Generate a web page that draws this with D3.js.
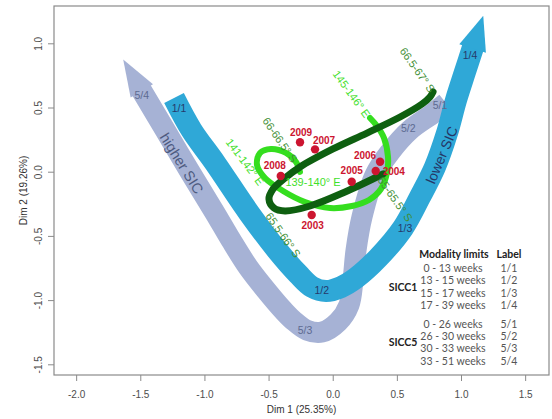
<!DOCTYPE html>
<html><head><meta charset="utf-8">
<script src="https://cdn.jsdelivr.net/npm/d3@7"></script>
<style>
body{margin:0;background:#fff;}
svg{display:block;font-family:Arial,"Liberation Sans",Helvetica,sans-serif;}
</style></head><body>
<svg id="chart" width="552" height="419"></svg>
<script>
// ---- axes ----
const xTicks = [-2.0, -1.5, -1.0, -0.5, 0.0, 0.5, 1.0, 1.5];
const yTicks = [-1.5, -1.0, -0.5, 0.0, 0.5, 1.0];
const xTitle = "Dim 1 (25.35%)";
const yTitle = "Dim 2 (19.26%)";

// ---- SICC1 trajectory (modalities 1/1 -> 1/4) ----
const sicc1Path = [[-1.237,0.574],[-1.101,0.325],[-0.917,0.068],[-0.652,-0.322],[-0.434,-0.610],
  [-0.270,-0.797],[-0.161,-0.898],[-0.052,-0.929],[0.065,-0.898],[0.181,-0.828],[0.353,-0.672],[0.548,-0.438],
  [0.680,-0.197],[0.797,0.037],[0.891,0.301],[0.961,0.558],[1.031,0.777],[1.094,0.971]];
const sicc1Labels = ["1/1","1/2","1/3","1/4"];
const sicc1LabelPos = [[-1.198,0.496],[-0.086,-0.927],[0.564,-0.441],[1.070,0.909]];

// ---- SICC5 trajectory (modalities 5/1 -> 5/4) ----
const sicc5Path = [[0.883,0.535],[0.774,0.449],[0.602,0.325],[0.447,0.153],[0.330,-0.026],
  [0.228,-0.353],[0.182,-0.610],[0.158,-0.844],[0.127,-1.038],[0.041,-1.171],[-0.083,-1.249],
  [-0.200,-1.234],[-0.309,-1.156],[-0.387,-1.078],[-0.520,-0.922],[-0.660,-0.742],[-0.793,-0.532],
  [-0.917,-0.322],[-1.112,-0.002],[-1.307,0.325],[-1.494,0.640]];
const sicc5Labels = ["5/1","5/2","5/3","5/4"];
const sicc5LabelPos = [[0.836,0.519],[0.589,0.338],[-0.216,-1.233],[-1.489,0.592]];

// ---- latitude trajectory ----
const latPath = [[0.392,-0.018],[0.096,-0.158],[-0.177,-0.267],[-0.372,-0.306],[-0.458,-0.283],
  [-0.497,-0.213],[-0.465,-0.135],[-0.372,-0.049],[-0.255,0.037],[0.002,0.177],[0.267,0.301],
  [0.525,0.426],[0.696,0.527],[0.758,0.582],[0.782,0.621]];
const latLabels = ["65-65.5° S","65.5-66° S","66-66.5° S","66.5-67° S"];
const latLabelPos = [[0.486,-0.213],[-0.387,-0.493],[-0.411,0.247],[0.660,0.792]];

// ---- longitude trajectory ----
const lonPath = [[-0.255,-0.002],[-0.286,0.076],[-0.364,0.146],[-0.481,0.177],[-0.567,0.146],
  [-0.590,0.052],[-0.528,-0.049],[-0.387,-0.150],[-0.216,-0.236],[-0.021,-0.283],[0.150,-0.267],
  [0.283,-0.220],[0.376,-0.135],[0.423,-0.010],[0.431,0.114],[0.400,0.262],[0.345,0.356],[0.291,0.418]];
const lonLabels = ["139-140° E","141-142° E","145-146° E"];
const lonLabelPos = [[-0.154,-0.080],[-0.684,0.076],[0.147,0.605]];
const lonLabelRot = [0, 53, 54];

// ---- years ----
const years = ["2003","2004","2005","2006","2007","2008","2009"];
const yearX = [-0.164, 0.335, 0.148, 0.369, -0.138, -0.405, -0.255];
const yearY = [-0.337, 0.005, -0.078, 0.078, 0.174, -0.033, 0.229];

// ---- modality table ----
const sicc1Ranges = ["0 - 13 weeks","13 - 15 weeks","15 - 17 weeks","17 - 39 weeks"];
const sicc5Ranges = ["0 - 26 weeks","26 - 30 weeks","30 - 33 weeks","33 - 51 weeks"];

const plot = {left: 54, right: 549, top: 6, bottom: 375};
const x = d3.scaleLinear().domain([-2.1726, 1.6859]).range([plot.left, plot.right]);
const y = d3.scaleLinear().domain([-1.5833, 1.2905]).range([plot.bottom, plot.top]);

const svg = d3.select("#chart");
const fmt = v => d3.format(".1f")(v).replace("−", "-");

// axes
const gx = svg.append("g").attr("transform", `translate(0,${plot.bottom})`)
  .call(d3.axisBottom(x).tickValues(xTicks).tickFormat(fmt).tickSize(6).tickPadding(10));
gx.select(".domain").remove();
gx.selectAll("line").attr("stroke", "#8a8a8a");
gx.selectAll("text").attr("fill", "#4d4d4d").attr("font-size", 10).attr("font-family", "Arial, 'Liberation Sans', sans-serif");

const gy = svg.append("g").attr("transform", `translate(${plot.left},0)`)
  .call(d3.axisLeft(y).tickValues(yTicks).tickFormat(fmt).tickSize(6));
gy.select(".domain").remove();
gy.selectAll("line").attr("stroke", "#8a8a8a");
gy.selectAll("text").attr("fill", "#4d4d4d").attr("font-size", 10)
  .attr("font-family", "Arial, 'Liberation Sans', sans-serif")
  .attr("transform", "rotate(-90)").attr("x", 0).attr("y", -12).attr("dy", 0)
  .attr("text-anchor", "middle");

svg.append("rect").attr("x", plot.left).attr("y", plot.top)
  .attr("width", plot.right - plot.left).attr("height", plot.bottom - plot.top)
  .attr("fill", "none").attr("stroke", "#8a8a8a").attr("stroke-width", 1.2);

svg.append("text").attr("x", (plot.left + plot.right) / 2).attr("y", 413)
  .attr("text-anchor", "middle").attr("font-size", 10).attr("fill", "#333").text(xTitle);
svg.append("text").attr("transform", `translate(27,${(plot.top + plot.bottom) / 2}) rotate(-90)`)
  .attr("text-anchor", "middle").attr("font-size", 10).attr("fill", "#333").text(yTitle);

const line = d3.line().x(d => x(d[0])).y(d => y(d[1])).curve(d3.curveCatmullRom.alpha(0.5));

// wide band with a triangular head at its last point
function band(pts, color, width, headLen, headHalf) {
  svg.append("path").attr("d", line(pts)).attr("fill", "none")
    .attr("stroke", color).attr("stroke-width", width).attr("stroke-linecap", "butt");
  const a = pts[pts.length - 2], b = pts[pts.length - 1];
  const ax = x(a[0]), ay = y(a[1]), bx = x(b[0]), by = y(b[1]);
  const d = Math.hypot(bx - ax, by - ay), ux = (bx - ax) / d, uy = (by - ay) / d;
  const px = -uy, py = ux;
  const cx = bx - ux * 1.5, cy = by - uy * 1.5;
  const tri = [[cx + px * headHalf, cy + py * headHalf], [bx + ux * headLen, by + uy * headLen],
               [cx - px * headHalf, cy - py * headHalf]];
  svg.append("path").attr("d", "M" + tri.map(p => p.join(",")).join("L") + "Z").attr("fill", color);
}

const grayBand = "#a6b2d5", blueBand = "#2fa8d7";
band(sicc5Path, grayBand, 21, 35, 13);
band(sicc1Path, blueBand, 22, 33, 14);

// band labels
function labels(txt, pos, color, size) {
  svg.append("g").selectAll("text").data(txt).join("text")
    .attr("x", (d, i) => x(pos[i][0])).attr("y", (d, i) => y(pos[i][1]))
    .attr("dy", "0.35em").attr("text-anchor", "middle")
    .attr("font-size", size).attr("fill", color).text(d => d);
}
labels(sicc5Labels, sicc5LabelPos, "#5d6a91", 10.5);
labels(sicc1Labels, sicc1LabelPos, "#263a6b", 10.5);

svg.append("text").attr("transform", `translate(${x(-1.177)},${y(0.065)}) rotate(58)`)
  .attr("text-anchor", "middle").attr("dy", "0.35em").attr("font-size", 14.5)
  .attr("fill", "#4d5a80").text("higher SIC");
svg.append("text").attr("transform", `translate(${x(0.850)},${y(0.130)}) rotate(-67)`)
  .attr("text-anchor", "middle").attr("dy", "0.35em").attr("font-size", 14)
  .attr("fill", "#243767").text("lower SIC");

// geographic trajectories
svg.append("path").attr("d", line(lonPath)).attr("fill", "none").attr("stroke", "#35de1f")
  .attr("stroke-width", 6).attr("stroke-linecap", "round").attr("stroke-linejoin", "round");
svg.append("path").attr("d", line(latPath)).attr("fill", "none").attr("stroke", "#0e5f10")
  .attr("stroke-width", 7).attr("stroke-linecap", "round").attr("stroke-linejoin", "round");

svg.append("g").selectAll("text").data(latLabels).join("text")
  .attr("transform", (d, i) => `translate(${x(latLabelPos[i][0])},${y(latLabelPos[i][1])}) rotate(55)`)
  .attr("text-anchor", "middle").attr("dy", "0.35em").attr("font-size", 11)
  .attr("fill", "#3f8f35").text(d => d);
svg.append("g").selectAll("text").data(lonLabels).join("text")
  .attr("transform", (d, i) => `translate(${x(lonLabelPos[i][0])},${y(lonLabelPos[i][1])}) rotate(${lonLabelRot[i]})`)
  .attr("text-anchor", "middle").attr("dy", "0.35em").attr("font-size", 11)
  .attr("fill", "#3fe02a").text(d => d);

// years
const yearOff = [[1, 11], [7, 0], [0, -11], [-15, -6], [9, -9], [-6, -10], [1, -10]];
const yearAnchor = ["middle", "start", "middle", "middle", "middle", "middle", "middle"];
svg.append("g").selectAll("circle").data(years).join("circle")
  .attr("cx", (d, i) => x(yearX[i])).attr("cy", (d, i) => y(yearY[i])).attr("r", 4.2)
  .attr("fill", "#cc1530");
svg.append("g").selectAll("text").data(years).join("text")
  .attr("x", (d, i) => x(yearX[i]) + yearOff[i][0])
  .attr("y", (d, i) => y(yearY[i]) + yearOff[i][1])
  .attr("dy", "0.35em").attr("text-anchor", (d, i) => yearAnchor[i])
  .attr("font-size", 10).attr("font-weight", "bold").attr("fill", "#cc1530").text(d => d);

// modality table
const tf = "Lato, 'Open Sans', sans-serif";
const tbl = svg.append("g").attr("font-family", tf);
tbl.append("text").attr("x", 454).attr("y", 254).attr("dy", "0.35em").attr("text-anchor", "middle")
  .attr("font-size", 10.5).attr("font-weight", "bold").attr("fill", "#222").text("Modality limits");
tbl.append("text").attr("x", 509).attr("y", 254).attr("dy", "0.35em").attr("text-anchor", "middle")
  .attr("font-size", 10.5).attr("font-weight", "bold").attr("fill", "#222").text("Label");
const groups = [
  {name: "SICC1", ranges: sicc1Ranges, labs: sicc1Labels, y0: 268.5},
  {name: "SICC5", ranges: sicc5Ranges, labs: sicc5Labels, y0: 324}
];
groups.forEach(r => {
  tbl.append("text").attr("x", 403).attr("y", r.y0 + 18.5).attr("dy", "0.35em").attr("text-anchor", "middle")
    .attr("font-size", 10.5).attr("font-weight", "bold").attr("fill", "#222").text(r.name);
  r.ranges.forEach((t, i) => {
    tbl.append("text").attr("x", 453).attr("y", r.y0 + i * 12.3).attr("dy", "0.35em")
      .attr("text-anchor", "middle").attr("font-size", 10.5).attr("fill", "#555").text(t);
    tbl.append("text").attr("x", 509).attr("y", r.y0 + i * 12.3).attr("dy", "0.35em")
      .attr("text-anchor", "middle").attr("font-size", 10.5).attr("fill", "#555").text(r.labs[i]);
  });
});
</script>
</body></html>
